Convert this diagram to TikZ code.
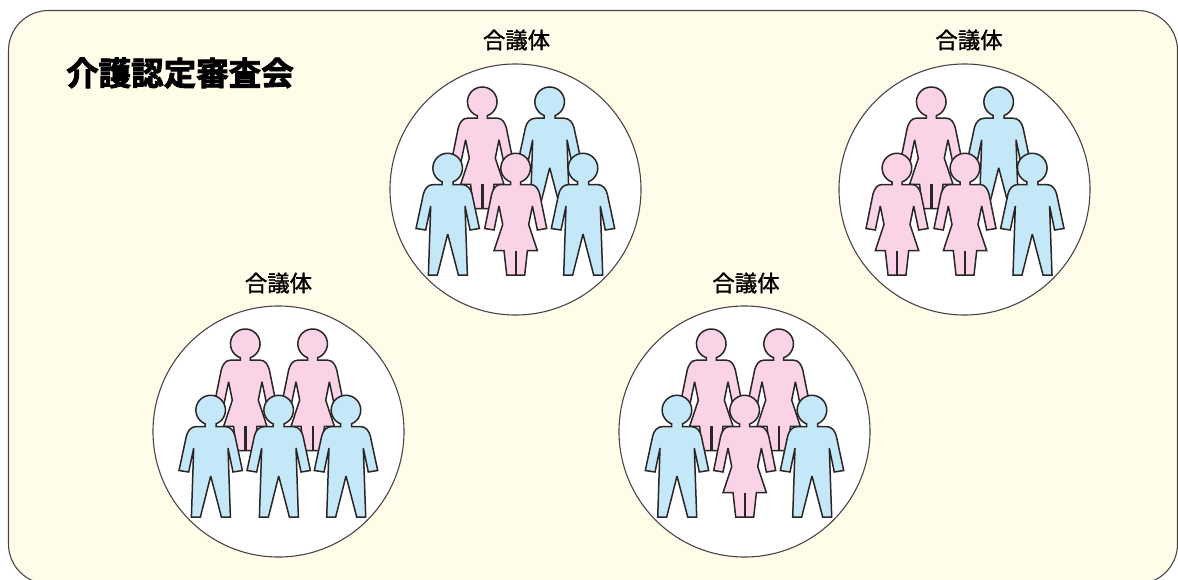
\documentclass[tikz,border=0pt]{standalone}
\usepackage{fontspec}
\newfontfamily\cjkmed[FakeBold=1.3]{Noto Sans CJK JP}
\newfontfamily\cjkheavy[FakeBold=2.6]{Noto Sans CJK JP Bold}
\definecolor{bgc}{HTML}{FFFCE9}
\definecolor{pinkc}{HTML}{FAD3E6}
\definecolor{bluec}{HTML}{C5E8F9}
\definecolor{linec}{HTML}{2A2526}
\tikzset{
  x=1pt,y=-1pt,
  frame/.style={draw=linec!85,line width=1.1pt,fill=bgc},
  group/.style={circle,draw=linec!85,fill=white,line width=1.1pt,minimum size=251pt,inner sep=0pt},
  caption/.style={font=\cjkmed\fontsize{22.4}{26}\selectfont,text=black,inner sep=0pt},
  title/.style={font=\cjkheavy\fontsize{32.5}{36}\selectfont,text=black,inner sep=0pt},
  body/.style={draw=linec,line width=1.5pt,line join=miter,miter limit=3},
  man/.pic={
    \draw[body,fill=bluec]
      (-5.5,13.8) -- (-5.5,16.5) -- (-14,16.5) .. controls (-20,16.5) and (-23,21) .. (-24.3,26)
      -- (-31.7,60.5) -- (-22,62) -- (-17,38) -- (-19.3,107) -- (-10.3,107) -- (0,66)
      -- (10.7,107) -- (19.7,107) -- (17.3,38) -- (22.3,62) -- (31.7,60.5) -- (24.3,26)
      .. controls (23,21) and (20,16.5) .. (14,16.5) -- (5.5,16.5) -- (5.5,13.8)
      arc[start angle=68,end angle=-248,radius=14.8] -- cycle;
  },
  woman/.pic={
    \draw[body,fill=pinkc]
      (-5,14) -- (-5,16.5) -- (-15,16.5) .. controls (-20,16.5) and (-22.5,21) .. (-24,26)
      -- (-31,60.5) -- (-21.7,62) -- (-16.7,38) -- (-13,56.5) -- (-21.7,82.7) -- (-11.7,82.7)
      -- (-9,107) -- (9,107) -- (11.7,82.7) -- (21.7,82.7)
      -- (13,56.5) -- (16.7,38) -- (21.7,62) -- (31,60.5) -- (24,26)
      .. controls (22.5,21) and (20,16.5) .. (15,16.5) -- (5,16.5) -- (5,14)
      arc[start angle=70,end angle=-250,radius=14.8] -- cycle;
    \draw[draw=linec,line width=2.4pt] (0,82.7) -- (0,107);
  }
}
\begin{document}
\begin{tikzpicture}
\useasboundingbox (0,0) rectangle (1178,579);
\clip (0,0) rectangle (1178,579);
\path[frame,rounded corners=40pt] (8.5,10.5) rectangle (1177.5,584);
\node[title,anchor=west] (heading) at (66,73) {介護認定審査会};
% group 1
\node[caption] (cap1) at (516.5,40) {合議体};
\node[group] (g1) at (515.5,189.5) {};
\pic at (482.3,101.7) {woman};
\pic at (549.7,101.7) {man};
\pic at (447.7,168) {man};
\pic at (515.7,168) {woman};
\pic at (583,168) {man};
% group 2
\node[caption] (cap2) at (969,40) {合議体};
\node[group] (g2) at (964.5,189.5) {};
\pic at (931.3,101.7) {woman};
\pic at (998.7,101.7) {man};
\pic at (897,168) {woman};
\pic at (965,168) {woman};
\pic at (1032.3,168) {man};
% group 3
\node[caption] (cap3) at (278.5,283) {合議体};
\node[group] (g3) at (278.5,431.5) {};
\pic at (245.3,343.7) {woman};
\pic at (312.7,343.7) {woman};
\pic at (210.7,410) {man};
\pic at (278.7,410) {man};
\pic at (346,410) {man};
% group 4
\node[caption] (cap4) at (746,283) {合議体};
\node[group] (g4) at (744.5,431.5) {};
\pic at (711.3,343.7) {woman};
\pic at (778.7,343.7) {woman};
\pic at (677,410) {man};
\pic at (744.7,410) {woman};
\pic at (812,410) {man};
\end{tikzpicture}
\end{document}
